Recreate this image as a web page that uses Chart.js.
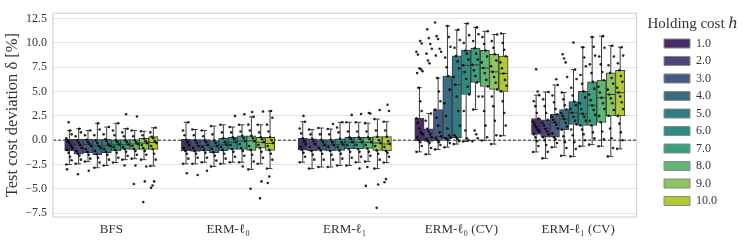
<!DOCTYPE html>
<html>
<head>
<meta charset="utf-8">
<script src="https://cdn.jsdelivr.net/npm/chart.js@4.4.1/dist/chart.umd.min.js"></script>
<style>
  html, body { margin: 0; padding: 0; background: #fff; }
  #wrap { width: 747px; height: 242px; }
</style>
</head>
<body>
<div id="wrap"><canvas id="chart"></canvas></div>
<script>
"use strict";

// Methods (x axis) and holding cost levels (hue)
const methods = ["BFS", "ERM-ℓ₀", "ERM-ℓ₁", "ERM-ℓ₀ (CV)", "ERM-ℓ₁ (CV)"];
const holdingCosts = ["1.0", "2.0", "3.0", "4.0", "5.0", "6.0", "7.0", "8.0", "9.0", "10.0"];
const hueColors = ["#492b69", "#4b477c", "#435b82", "#396b82", "#327b82",
                   "#2e8b7f", "#3b9f7b", "#60b775", "#8dc45b", "#b2c934"];

// Box statistics: one row per method, one value per holding cost
const whiskerLow = [
    [-2.5, -2.43, -2.2, -2.83, -2.6, -2.3, -2.0, -1.9, -2.0, -2.66],
    [-2.43, -2.43, -2.27, -2.7, -2.43, -2.27, -2.27, -3.0, -2.43, -2.92],
    [-2.27, -2.92, -2.76, -2.76, -2.6, -2.6, -2.27, -2.2, -2.92, -2.3],
    [-1.2, -1.45, -0.95, -0.72, -0.4, -0.13, 3.15, -0.03, -0.4, 0.46],
    [-1.21, -1.87, -0.72, -1.6, -1.67, -0.62, -0.46, -0.62, -1.67, -0.89]
];
const quartile1 = [
    [-1.1, -1.45, -1.28, -1.5, -1.28, -1.1, -0.95, -0.95, -0.95, -0.95],
    [-1.1, -1.15, -1.1, -1.28, -1.1, -0.95, -0.95, -1.05, -0.79, -1.05],
    [-1.02, -1.1, -1.05, -1.1, -1.05, -0.89, -0.89, -0.85, -1.05, -1.1],
    [-0.05, -0.13, -0.03, 0.13, 0.27, 4.7, 5.94, 5.52, 5.22, 5.02],
    [0.59, 0.3, 0.3, 1.08, 1.61, 1.51, 1.51, 1.84, 2.5, 2.5]
];
const median = [
    [-0.46, -0.46, -0.46, -0.62, -0.56, -0.46, -0.46, -0.39, -0.3, -0.23],
    [-0.46, -0.62, -0.56, -0.62, -0.46, -0.23, -0.07, -0.07, -0.23, -0.33],
    [-0.39, -0.39, -0.56, -0.5, -0.46, -0.2, -0.23, -0.23, -0.3, -0.39],
    [0.8, 0.27, 0.36, 0.27, 5.7, 7.7, 7.75, 7.42, 7.03, 6.86],
    [1.35, 1.18, 1.84, 2.17, 2.82, 2.72, 3.58, 4.37, 4.7, 4.9]
];
const quartile3 = [
    [0.1, 0.1, 0.1, 0.05, 0.1, 0.03, 0.05, 0.05, 0.2, 0.36],
    [0.1, 0.05, 0.05, 0.0, 0.2, 0.3, 0.46, 0.46, 0.3, 0.3],
    [0.2, 0.15, 0.05, 0.05, 0.15, 0.3, 0.3, 0.3, 0.36, 0.36],
    [2.24, 1.18, 3.15, 6.6, 8.67, 9.23, 9.46, 9.23, 8.84, 8.64],
    [2.23, 2.1, 2.66, 3.15, 3.97, 5.02, 6.0, 6.17, 6.93, 7.19]
];
const whiskerHigh = [
    [1.0, 1.18, 1.0, 1.74, 1.35, 1.74, 1.18, 1.0, 0.92, 1.28],
    [1.84, 1.1, 1.0, 1.45, 1.58, 1.35, 1.58, 2.4, 1.58, 3.0],
    [1.9, 1.1, 1.25, 1.15, 1.84, 1.84, 1.84, 1.75, 2.17, 1.9],
    [5.4, 2.75, 6.4, 11.75, 11.35, 12.0, 11.6, 11.2, 10.87, 10.97],
    [4.63, 4.96, 5.68, 4.9, 7.26, 9.56, 10.6, 10.7, 9.72, 9.56]
];

// Individual observations (strip points), one list per holding cost
const pointsBFS = [
    [-2.5, -2.07, -1.7, -1.3, -1.0, -0.8, -0.55, -0.3, -0.1, 0.2, 0.6, 1.0, 1.85, -3.0],
    [-2.43, -2.0, -1.6, -1.4, -1.1, -0.8, -0.5, -0.25, 0.0, 0.4, 0.8, 1.18, -3.5],
    [-2.2, -1.9, -1.5, -1.2, -0.9, -0.6, -0.4, -0.2, 0.05, 0.5, 1.0, -3.15],
    [-2.83, -2.3, -1.8, -1.45, -1.1, -0.8, -0.6, -0.3, 0.0, 0.5, 1.1, 1.74],
    [-2.6, -2.0, -1.5, -1.2, -0.9, -0.6, -0.4, -0.1, 0.1, 0.6, 1.35],
    [-2.3, -1.8, -1.3, -1.0, -0.7, -0.45, -0.2, 0.0, 0.5, 1.0, 1.74],
    [-2.0, -1.6, -1.2, -0.9, -0.7, -0.45, -0.2, 0.0, 0.4, 0.8, 1.18, 2.66, -2.6],
    [-1.9, -1.5, -1.1, -0.9, -0.6, -0.4, -0.2, 0.0, 0.4, 1.0, 2.43, -2.6, -4.5],
    [-2.0, -1.5, -1.1, -0.8, -0.5, -0.3, -0.1, 0.15, 0.5, 0.92, -2.7, -4.24, -6.37],
    [-2.66, -2.0, -1.4, -0.9, -0.6, -0.3, -0.1, 0.2, 0.35, 0.8, 1.28, -4.24, -4.66, -4.9]
];
const pointsERM0 = [
    [-2.43, -1.9, -1.4, -1.1, -0.8, -0.5, -0.2, 0.05, 0.5, 1.0, 1.84, -3.4],
    [-2.43, -1.8, -1.4, -1.1, -0.8, -0.6, -0.3, 0.0, 0.5, 1.1, -3.58],
    [-2.27, -1.8, -1.3, -1.0, -0.7, -0.5, -0.2, 0.0, 0.4, 1.0, -3.15],
    [-2.7, -2.1, -1.6, -1.25, -0.9, -0.6, -0.3, 0.0, 0.6, 1.45],
    [-2.43, -1.9, -1.4, -1.0, -0.7, -0.45, -0.2, 0.2, 0.8, 1.58],
    [-2.27, -1.7, -1.2, -0.9, -0.5, -0.2, 0.1, 0.3, 0.8, 1.35, 2.5],
    [-2.27, -1.6, -1.1, -0.8, -0.4, -0.1, 0.2, 0.45, 0.9, 1.58, 2.66, -2.7],
    [-3.0, -2.2, -1.5, -1.0, -0.6, -0.1, 0.2, 0.45, 1.0, 1.6, 2.4, 2.9, -5.0],
    [-2.43, -1.8, -1.2, -0.8, -0.5, -0.2, 0.1, 0.3, 0.8, 1.58, 2.95, -4.24, -5.98],
    [-2.92, -2.0, -1.4, -1.0, -0.6, -0.3, 0.0, 0.3, 0.9, 1.6, 2.3, 3.0, -3.74, -4.4]
];
const pointsERM1 = [
    [-2.27, -1.7, -1.3, -1.0, -0.7, -0.4, -0.1, 0.2, 0.7, 1.2, 1.9, 2.5],
    [-2.92, -2.0, -1.5, -1.1, -0.7, -0.4, -0.1, 0.15, 0.6, 1.1],
    [-2.76, -2.0, -1.4, -1.05, -0.8, -0.5, -0.2, 0.05, 0.6, 1.25],
    [-2.76, -2.0, -1.5, -1.1, -0.7, -0.5, -0.2, 0.05, 0.6, 1.15, 1.67],
    [-2.6, -1.9, -1.4, -1.05, -0.7, -0.45, -0.2, 0.15, 0.8, 1.3, 1.84],
    [-2.6, -1.8, -1.2, -0.9, -0.5, -0.2, 0.1, 0.3, 0.9, 1.84, 2.6],
    [-2.27, -1.7, -1.2, -0.9, -0.5, -0.2, 0.1, 0.3, 0.9, 1.84, 2.7, -2.92],
    [-2.2, -1.6, -1.2, -0.85, -0.5, -0.2, 0.1, 0.3, 0.9, 1.75, 2.75, 2.8, -2.76, -4.7],
    [-2.92, -2.0, -1.4, -1.05, -0.6, -0.3, 0.0, 0.36, 1.0, 2.17, 3.1, -4.56, -6.96],
    [-2.3, -1.7, -1.3, -1.1, -0.7, -0.4, -0.1, 0.36, 1.0, 1.9, 3.0, 3.65, -4.0, -4.33]
];
const pointsERM0CV = [
    [-1.2, -0.6, -0.2, 0.0, 0.3, 0.6, 0.8, 1.2, 1.8, 2.24, 3.0, 4.0, 5.4, 6.9, 7.1, 7.3, 7.4, 8.8, 9.1, 9.95, 10.2],
    [-1.45, -0.8, -0.3, -0.1, 0.1, 0.3, 0.6, 0.9, 1.18, 2.0, 2.75, 7.9, 8.2, 8.9, 9.4, 9.9, 10.5, 11.4],
    [-0.95, -0.5, -0.2, 0.0, 0.2, 0.4, 0.8, 1.5, 2.3, 3.15, 4.0, 5.0, 6.4, 8.7, 9.1, 9.4, 10.4, 10.7, 12.1],
    [-0.72, -0.3, 0.0, 0.1, 0.2, 0.3, 0.5, 1.2, 2.5, 3.8, 5.2, 6.6, 7.5, 8.5, 9.6, 10.6, 11.75],
    [-0.4, -0.1, 0.1, 0.3, 0.5, 1.5, 3.0, 4.5, 5.7, 6.5, 7.4, 8.1, 8.67, 9.5, 10.3, 11.35],
    [-0.13, 0.0, 0.2, 1.0, 3.0, 4.7, 5.5, 6.3, 7.0, 7.7, 8.3, 8.9, 9.23, 10.0, 10.8, 12.0],
    [-0.1, 0.2, 0.6, 1.0, 3.15, 4.5, 5.94, 6.6, 7.2, 7.75, 8.3, 8.9, 9.46, 10.2, 10.9, 11.6],
    [-0.03, 0.3, 1.5, 3.0, 4.5, 5.52, 6.2, 6.9, 7.42, 8.0, 8.6, 9.23, 9.9, 10.6, 11.2],
    [-0.4, 0.5, 2.0, 3.5, 4.5, 5.22, 5.9, 6.5, 7.03, 7.6, 8.2, 8.84, 9.5, 10.2, 10.87],
    [0.46, 1.5, 2.8, 4.0, 5.02, 5.6, 6.2, 6.86, 7.4, 8.0, 8.64, 9.3, 10.0, 10.97]
];
const pointsERM1CV = [
    [-1.21, -0.6, -0.1, 0.3, 0.59, 0.9, 1.1, 1.35, 1.6, 1.9, 2.23, 2.8, 3.5, 4.0, 4.63, 5.0, 7.3],
    [-1.87, -1.2, -0.5, 0.0, 0.3, 0.6, 0.9, 1.18, 1.5, 1.8, 2.1, 2.8, 3.5, 4.2, 4.96],
    [-0.72, -0.3, 0.1, 0.3, 0.7, 1.2, 1.6, 1.84, 2.1, 2.4, 2.66, 3.2, 3.9, 4.6, 5.68, 6.27],
    [-1.6, -0.8, -0.2, 0.4, 1.08, 1.4, 1.8, 2.17, 2.5, 2.8, 3.15, 3.6, 4.2, 4.9, 6.5, 8.0, 8.4, 8.84],
    [-1.67, -0.9, -0.2, 0.5, 1.1, 1.61, 2.0, 2.4, 2.82, 3.2, 3.6, 3.97, 4.6, 5.4, 6.3, 7.26, 10.05],
    [-0.62, 0.0, 0.6, 1.1, 1.51, 2.0, 2.4, 2.72, 3.2, 3.8, 4.4, 5.02, 5.8, 6.7, 7.6, 8.5, 9.56],
    [-0.46, 0.2, 0.8, 1.51, 2.0, 2.6, 3.1, 3.58, 4.1, 4.7, 5.3, 6.0, 6.9, 7.8, 8.7, 9.6, 10.6],
    [-0.62, 0.1, 0.9, 1.84, 2.5, 3.2, 3.8, 4.37, 4.9, 5.5, 6.17, 7.0, 7.8, 8.6, 9.5, 10.7],
    [-1.67, -0.8, 0.2, 1.2, 2.5, 3.1, 3.8, 4.3, 4.7, 5.2, 5.8, 6.4, 6.93, 7.7, 8.6, 9.72],
    [-0.89, 0.0, 0.8, 1.7, 2.5, 3.2, 3.9, 4.5, 4.9, 5.4, 6.0, 6.6, 7.19, 7.9, 8.7, 9.56]
];
const allPoints = [pointsBFS, pointsERM0, pointsERM1, pointsERM0CV, pointsERM1CV];

Chart.defaults.font.family = "'Liberation Serif', 'DejaVu Serif', serif";
Chart.defaults.color = "#333";

const nHue = holdingCosts.length;
const hueStep = 0.8 / nHue; // dodge width of one box in category units
const dodge = k => (k - (nHue - 1) / 2) * hueStep;

// Boxes (q1..q3) as floating bars, dodged on a hidden linear axis
const boxSets = holdingCosts.map((h, k) => ({
    type: 'bar',
    label: h,
    data: methods.map((m, g) => ({x: g + dodge(k), y: [quartile1[g][k], quartile3[g][k]]})),
    xAxisID: 'xs',
    grouped: false,
    backgroundColor: hueColors[k],
    borderColor: '#3c3c3c',
    borderWidth: 1,
    borderSkipped: false,
    order: 2
}));

// Strip points on the same hidden axis
const stripSets = holdingCosts.map((h, k) => {
    const pts = [];
    allPoints.forEach((grp, g) => {
        grp[k].forEach((v, j) => {
            const jit = ((((j * 7) % 9) - 4) / 4) * 0.026;
            pts.push({x: g + dodge(k) + jit, y: v});
        });
    });
    return {
        type: 'scatter',
        label: 'strip ' + h,
        data: pts,
        xAxisID: 'xs',
        pointRadius: 1.3,
        pointBorderWidth: 0,
        pointBackgroundColor: 'rgba(0,0,0,0.85)',
        order: 1
    };
});

// Box width, whiskers, medians, zero line and frame
const boxLines = {
    id: 'boxLines',
    afterLayout(chart) {
        const xs = chart.scales.xs;
        const w = Math.abs(xs.getPixelForValue(hueStep) - xs.getPixelForValue(0));
        chart.data.datasets.forEach((ds, i) => { if (i < nHue) ds.barThickness = w; });
    },
    beforeDraw(chart) {
        // let the legend title overhang its box like the reference
        const lg = chart.legend;
        if (lg && lg._draw && !lg._noClip) {
            lg._noClip = true;
            lg.draw = function () { if (this.options.display) this._draw(); };
        }
    },
    beforeDatasetsDraw(chart) {
        const {ctx, chartArea} = chart;
        const y0 = chart.scales.y.getPixelForValue(0);
        ctx.save();
        ctx.strokeStyle = '#222';
        ctx.lineWidth = 1;
        ctx.setLineDash([3, 2]);
        ctx.beginPath();
        ctx.moveTo(chartArea.left, y0);
        ctx.lineTo(chartArea.right, y0);
        ctx.stroke();
        ctx.restore();
    },
    afterDatasetDraw(chart, args) {
        const k = args.index;
        if (k >= nHue) return;
        const ctx = chart.ctx;
        const yScale = chart.scales.y;
        const py = v => yScale.getPixelForValue(v);
        ctx.save();
        ctx.strokeStyle = '#3c3c3c';
        ctx.lineWidth = 1;
        args.meta.data.forEach((bar, g) => {
            const x = bar.x;
            const half = bar.width / 2;
            const seg = (x1, y1, x2, y2) => {
                ctx.beginPath();
                ctx.moveTo(x1, y1);
                ctx.lineTo(x2, y2);
                ctx.stroke();
            };
            seg(x, py(quartile3[g][k]), x, py(whiskerHigh[g][k]));
            seg(x, py(quartile1[g][k]), x, py(whiskerLow[g][k]));
            seg(x - half / 2, py(whiskerHigh[g][k]), x + half / 2, py(whiskerHigh[g][k]));
            seg(x - half / 2, py(whiskerLow[g][k]), x + half / 2, py(whiskerLow[g][k]));
            seg(x - half + 0.5, py(median[g][k]), x + half - 0.5, py(median[g][k]));
        });
        ctx.restore();
    },
    afterDraw(chart) {
        const {ctx, chartArea} = chart;
        ctx.save();
        ctx.strokeStyle = '#d6d6d6';
        ctx.lineWidth = 1.25;
        ctx.strokeRect(chartArea.left, chartArea.top, chartArea.right - chartArea.left, chartArea.bottom - chartArea.top);
        ctx.restore();
    }
};

new Chart(document.getElementById('chart'), {
    type: 'bar',
    data: {
        labels: methods,
        datasets: [...boxSets, ...stripSets]
    },
    options: {
        responsive: true,
        maintainAspectRatio: false,
        animation: false,
        layout: { padding: { top: 5, right: 20, bottom: 0, left: 0 } },
        scales: {
            x: {
                type: 'category',
                offset: true,
                grid: { display: false, drawTicks: false },
                border: { display: false },
                ticks: { padding: 5, font: { size: 13 }, color: '#333' },
                afterFit: s => { s.height = 25; }
            },
            xs: {
                type: 'linear',
                display: false,
                offset: false,
                grid: { offset: false },
                min: -0.5,
                max: methods.length - 0.5
            },
            y: {
                min: -7.9,
                max: 13.06,
                grid: { color: '#e3e3e3', drawTicks: false },
                border: { display: false },
                ticks: {
                    stepSize: 2.5,
                    includeBounds: false,
                    padding: 6,
                    font: { size: 12 },
                    color: '#333',
                    callback: v => v.toFixed(1).replace('-', '−')
                },
                title: {
                    display: true,
                    text: 'Test cost deviation δ [%]',
                    font: { size: 16.5 },
                    color: '#333',
                    padding: { top: 3, bottom: 0 }
                },
                afterFit: s => { s.width = 53; }
            },
            pad: {
                type: 'linear',
                position: 'right',
                display: true,
                grid: { display: false },
                border: { display: false },
                ticks: { display: false },
                afterFit: s => { s.width = 22; }
            }
        },
        plugins: {
            tooltip: { enabled: false },
            legend: {
                position: 'right',
                align: 'start',
                title: {
                    display: true,
                    text: 'Holding cost ℎ',
                    font: { size: 15, lineHeight: 1.0 },
                    color: '#333',
                    padding: { top: 12, bottom: 0 }
                },
                labels: {
                    boxWidth: 26,
                    boxHeight: 9,
                    padding: 5.5,
                    font: { size: 12 },
                    color: '#333',
                    generateLabels(chart) {
                        const items = Chart.defaults.plugins.legend.labels.generateLabels(chart);
                        return items
                            .filter(it => it.datasetIndex < nHue)
                            .map(it => Object.assign(it, { strokeStyle: '#8a8a8a', lineWidth: 1 }));
                    }
                }
            }
        }
    },
    plugins: [boxLines]
});
</script>
</body>
</html>
